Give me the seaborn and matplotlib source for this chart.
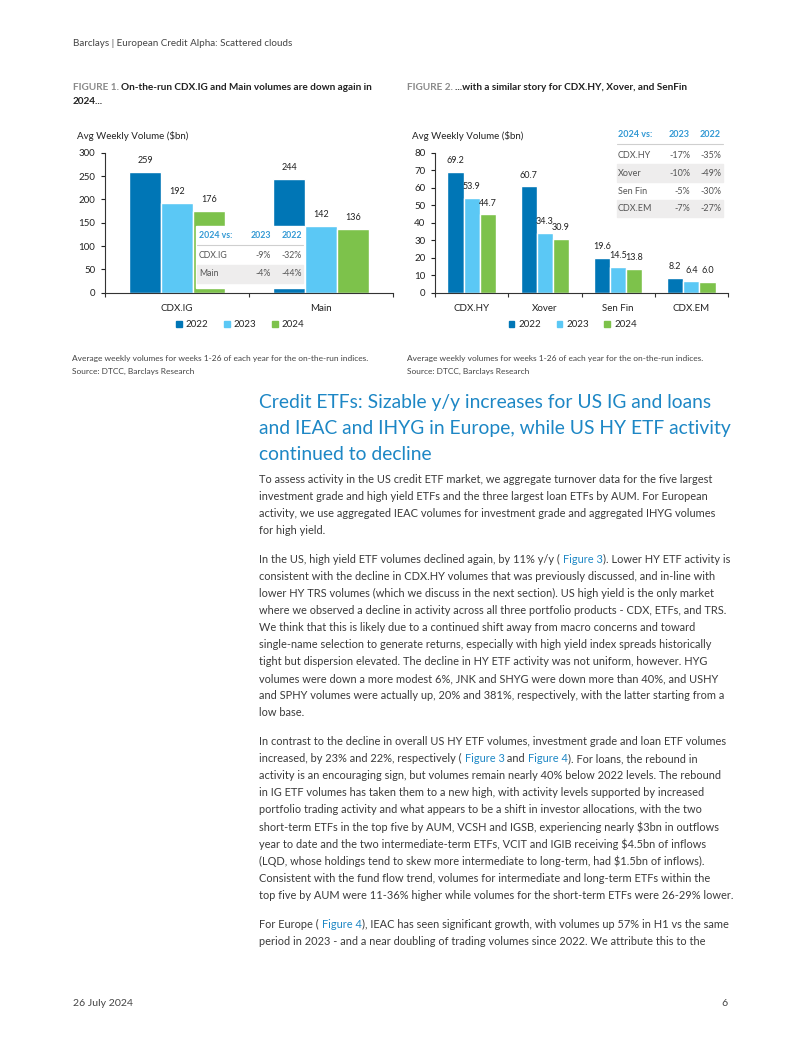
import re

import matplotlib
matplotlib.use("Agg")
import numpy as np
import pandas as pd
import seaborn as sns
from matplotlib import pyplot as plt
from matplotlib.lines import Line2D
from matplotlib.patches import Rectangle


W, H = 802, 1037

YEARS = ["2022", "2023", "2024"]
COLORS = ["#0076B6", "#5BC8F5", "#7DC24B"]

IG_INDICES = ["CDX.IG", "Main"]
IG_2022 = [259, 244]
IG_2023 = [192, 142]
IG_2024 = [176, 136]

HY_INDICES = ["CDX.HY", "Xover", "Sen Fin", "CDX.EM"]
HY_2022 = [69.2, 60.7, 19.6, 8.2]
HY_2023 = [53.9, 34.3, 14.5, 6.4]
HY_2024 = [44.7, 30.9, 13.8, 6.0]

IG_TABLE_ROWS = ["CDX.IG", "Main"]
IG_VS_2023 = ["-9%", "-4%"]
IG_VS_2022 = ["-32%", "-44%"]

HY_TABLE_ROWS = ["CDX.HY", "Xover", "Sen Fin", "CDX.EM"]
HY_VS_2023 = ["-17%", "-10%", "-5%", "-7%"]
HY_VS_2022 = ["-35%", "-49%", "-30%", "-27%"]

HEADER = "Barclays | European Credit Alpha: Scattered clouds"
FIG1_TITLE = ["On-the-run CDX.IG and Main volumes are down again in", "2024..."]
FIG2_TITLE = "...with a similar story for CDX.HY, Xover, and SenFin"
FOOTNOTE = [
    "Average weekly volumes for weeks 1-26 of each year for the on-the-run indices.",
    "Source: DTCC, Barclays Research",
]
HEADING = [
    "Credit ETFs: Sizable y/y increases for US IG and loans",
    "and IEAC and IHYG in Europe, while US HY ETF activity",
    "continued to decline",
]
PARAGRAPHS = [
    [
        "To assess activity in the US credit ETF market, we aggregate turnover data for the five largest",
        "investment grade and high yield ETFs and the three largest loan ETFs by AUM. For European",
        "activity, we use aggregated IEAC volumes for investment grade and aggregated IHYG volumes",
        "for high yield.",
    ],
    [
        "In the US, high yield ETF volumes declined again, by 11% y/y ( [Figure 3]). Lower HY ETF activity is",
        "consistent with the decline in CDX.HY volumes that was previously discussed, and in-line with",
        "lower HY TRS volumes (which we discuss in the next section). US high yield is the only market",
        "where we observed a decline in activity across all three portfolio products - CDX, ETFs, and TRS.",
        "We think that this is likely due to a continued shift away from macro concerns and toward",
        "single-name selection to generate returns, especially with high yield index spreads historically",
        "tight but dispersion elevated. The decline in HY ETF activity was not uniform, however. HYG",
        "volumes were down a more modest 6%, JNK and SHYG were down more than 40%, and USHY",
        "and SPHY volumes were actually up, 20% and 381%, respectively, with the latter starting from a",
        "low base.",
    ],
    [
        "In contrast to the decline in overall US HY ETF volumes, investment grade and loan ETF volumes",
        "increased, by 23% and 22%, respectively ( [Figure 3] and [Figure 4]). For loans, the rebound in",
        "activity is an encouraging sign, but volumes remain nearly 40% below 2022 levels. The rebound",
        "in IG ETF volumes has taken them to a new high, with activity levels supported by increased",
        "portfolio trading activity and what appears to be a shift in investor allocations, with the two",
        "short-term ETFs in the top five by AUM, VCSH and IGSB, experiencing nearly $3bn in outflows",
        "year to date and the two intermediate-term ETFs, VCIT and IGIB receiving $4.5bn of inflows",
        "(LQD, whose holdings tend to skew more intermediate to long-term, had $1.5bn of inflows).",
        "Consistent with the fund flow trend, volumes for intermediate and long-term ETFs within the",
        "top five by AUM were 11-36% higher while volumes for the short-term ETFs were 26-29% lower.",
    ],
    [
        "For Europe ( [Figure 4]), IEAC has seen significant growth, with volumes up 57% in H1 vs the same",
        "period in 2023 - and a near doubling of trading volumes since 2022. We attribute this to the",
    ],
]
PARA_TOPS = [478.3, 558.3, 740.7, 923.3]

FONT = ["Lato", "DejaVu Sans"]
TEXT_COLOR = "#3a3a3a"
LINK_COLOR = "#1D87C5"
TABLE_BLUE = "#3399D4"


def fx(x):
    return x / W


def fy(y):
    return 1 - y / H


sns.set_theme(style="ticks")
plt.rcParams["font.family"] = FONT

fig = plt.figure(figsize=(W / 100, H / 100), dpi=100)
fig.patch.set_facecolor("white")
renderer = fig.canvas.get_renderer()


def text_width(s, size, weight="normal"):
    t = fig.text(0, 0, s, fontsize=size, fontweight=weight, parse_math=False)
    w = t.get_window_extent(renderer).width
    t.remove()
    return w


def fit_size(s, target, weight="normal"):
    return 10 * target / text_width(s, 10, weight)


def put(x, y, s, size, color=TEXT_COLOR, weight="normal", ha="left"):
    fig.text(fx(x), fy(y), s, fontsize=size, color=color, fontweight=weight,
             ha=ha, va="center_baseline", parse_math=False)


def draw_runs(x, y, runs, size, weight="normal"):
    prefix = ""
    base = text_width("l", size, weight)
    for s, color in runs:
        offset = text_width(prefix + "l", size, weight) - base if prefix else 0
        put(x + offset, y, s, size, color, weight)
        prefix += s


def parse_links(line):
    runs = []
    for part in re.split(r"(\[[^\]]+\])", line):
        if not part:
            continue
        if part.startswith("["):
            runs.append((part[1:-1], LINK_COLOR))
        else:
            runs.append((part, TEXT_COLOR))
    return runs


def draw_chart(rect, cats, series, ymax, ystep, fmt, legend_x):
    ax = fig.add_axes(rect)
    df = pd.DataFrame({
        "index": cats * 3,
        "year": np.repeat(YEARS, len(cats)),
        "volume": series[0] + series[1] + series[2],
    })
    sns.barplot(data=df, x="index", y="volume", hue="year", palette=COLORS,
                width=0.66, gap=0, saturation=1, legend=False, ax=ax)
    for cont in ax.containers:
        ax.bar_label(cont, labels=[fmt.format(v) for v in cont.datavalues],
                     padding=5, fontsize=6.5, color="#222222")
    n = len(cats)
    ax.set_xlim(-0.5, n - 0.5)
    ax.set_ylim(0, ymax)
    ax.set_yticks(np.arange(0, ymax + 1, ystep))
    ax.set_xticks(range(n))
    ax.set_xticklabels(cats)
    ax.set_xticks(np.arange(-0.5, n, 1), minor=True)
    ax.tick_params(axis="x", which="major", length=0, pad=8, labelsize=7, colors="#222222")
    ax.tick_params(axis="x", which="minor", length=3, width=0.8, color="#333333")
    ax.tick_params(axis="y", length=3, width=0.8, pad=4, labelsize=7, colors="#222222")
    ax.set_xlabel("")
    ax.set_ylabel("")
    sns.despine(ax=ax)
    for side in ["left", "bottom"]:
        ax.spines[side].set_color("#333333")
        ax.spines[side].set_linewidth(0.8)
    handles = [Rectangle((0, 0), 1, 1, color=c) for c in COLORS]
    ax.legend(handles, YEARS, loc="center", bbox_to_anchor=(legend_x, -0.23),
              ncol=3, frameon=False, fontsize=7, handlelength=0.6, handleheight=0.6,
              handletextpad=0.4, columnspacing=1.6)
    return ax


def draw_table(x0, x1, label_x, c23_x, c22_x, y_head, y_line, row_ys, row_h,
               rows, v23, v22, gray_rows, size, box=None):
    if box is not None:
        bx0, by0, bx1, by1 = box
        fig.patches.append(Rectangle((fx(bx0), fy(by1)), fx(bx1) - fx(bx0), fy(by0) - fy(by1),
                                     transform=fig.transFigure, color="white", zorder=5))
    for i in gray_rows:
        y = row_ys[i]
        fig.patches.append(Rectangle((fx(x0), fy(y + row_h / 2)), fx(x1) - fx(x0), row_h / H,
                                     transform=fig.transFigure, color="#EEEDED", zorder=6))
    fig.lines.append(Line2D([fx(x0), fx(x1)], [fy(y_line), fy(y_line)],
                            transform=fig.transFigure, color="#CFCFCF", lw=0.8, zorder=6))
    for s, x, ha in [("2024 vs:", label_x, "left"), ("2023", c23_x, "right"), ("2022", c22_x, "right")]:
        fig.text(fx(x), fy(y_head), s, fontsize=size, color=TABLE_BLUE, fontweight="bold",
                 ha=ha, va="center", zorder=7)
    for name, a, b, y in zip(rows, v23, v22, row_ys):
        fig.text(fx(label_x), fy(y), name, fontsize=size, color="#555555", ha="left", va="center", zorder=7)
        fig.text(fx(c23_x), fy(y), a, fontsize=size, color="#555555", ha="right", va="center", zorder=7)
        fig.text(fx(c22_x), fy(y), b, fontsize=size, color="#555555", ha="right", va="center", zorder=7)


# page header
put(73, 42, HEADER, fit_size(HEADER, 219), color="#444444")

# figure titles
title_size = fit_size("FIGURE 1. " + FIG1_TITLE[0], 300, "bold")
draw_runs(73, 87, [("FIGURE 1. ", "#8A8A8A"), (FIG1_TITLE[0], "#222222")], title_size, "bold")
put(73, 101, FIG1_TITLE[1], title_size, "#222222", "bold")
draw_runs(407, 87, [("FIGURE 2. ", "#8A8A8A"), (FIG2_TITLE, "#222222")], title_size, "bold")

# charts
ax_top, ax_bot = 152.7, 292.7
draw_chart([fx(105), fy(ax_bot), (393 - 105) / W, (ax_bot - ax_top) / H],
           IG_INDICES, [IG_2022, IG_2023, IG_2024], 300, 50, "{:.0f}", 0.47)
draw_chart([fx(435), fy(ax_bot), (728 - 435) / W, (ax_bot - ax_top) / H],
           HY_INDICES, [HY_2022, HY_2023, HY_2024], 80, 10, "{:.1f}", 0.47)
put(77, 135, "Avg Weekly Volume ($bn)", 7, "#222222")
put(412, 135, "Avg Weekly Volume ($bn)", 7, "#222222")

draw_table(197, 303, 199, 271, 302, 236, 245, [256, 274], 18,
           IG_TABLE_ROWS, IG_VS_2023, IG_VS_2022, [1], 6.3, box=(196, 226, 304, 288))
draw_table(617, 723, 618, 690, 721, 134, 144, [155, 173, 191, 208.5], 17.8,
           HY_TABLE_ROWS, HY_VS_2023, HY_VS_2022, [1, 3], 6.5)

# footnotes
foot_size = fit_size(FOOTNOTE[0], 298)
for x in [72, 407]:
    put(x, 358, FOOTNOTE[0], foot_size, "#444444")
    put(x, 371, FOOTNOTE[1], foot_size, "#444444")

# section heading
head_size = fit_size(HEADING[0], 455) * 0.4 + fit_size(HEADING[1], 468) * 0.6
for i, line in enumerate(HEADING):
    put(259, 401 + i * 26.2, line, head_size, LINK_COLOR)

# body text
body_size = fit_size(PARAGRAPHS[0][0], 453)
for top, para in zip(PARA_TOPS, PARAGRAPHS):
    for i, line in enumerate(para):
        y = top + i * 17.05
        runs = parse_links(line)
        if len(runs) == 1:
            put(259, y, line, body_size)
        else:
            draw_runs(259, y, runs, body_size)

# footer
put(73, 1003, "26 July 2024", fit_size("26 July 2024", 60), "#444444")
put(728, 1003, "6", fit_size("26 July 2024", 60), "#444444", ha="right")

fig.savefig("out.png", dpi=100, facecolor="white")
